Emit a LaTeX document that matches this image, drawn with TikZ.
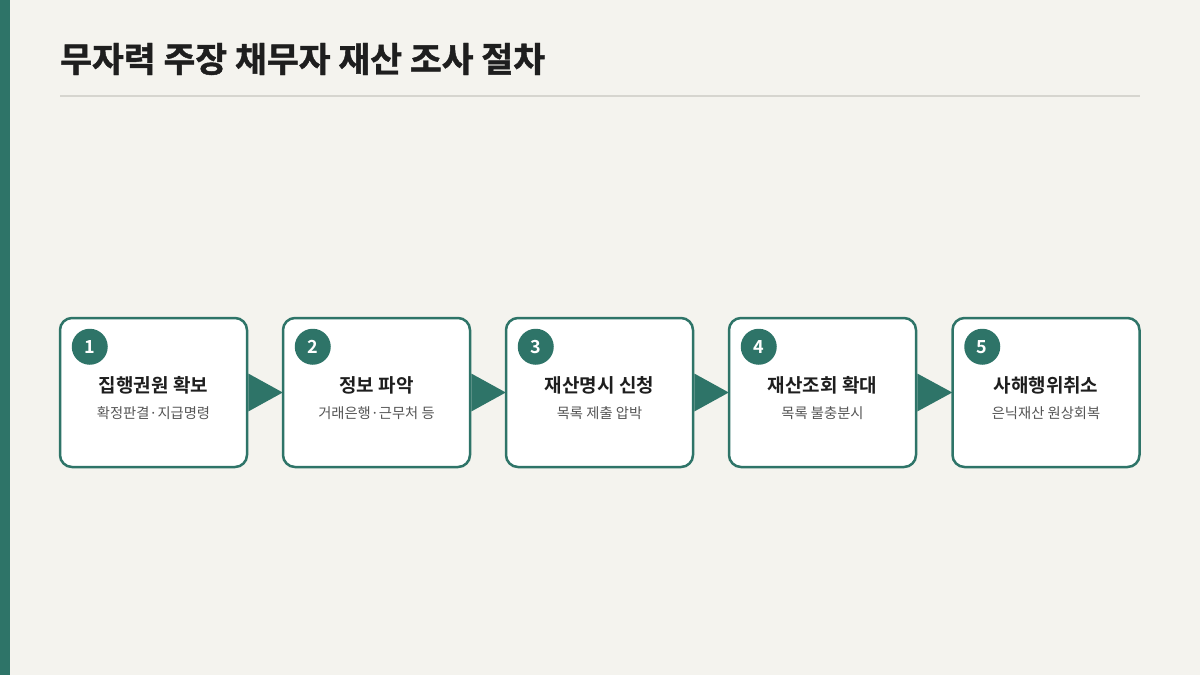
\documentclass[tikz,border=0pt]{standalone}
\usepackage{fontspec}
\setmainfont{Noto Sans CJK KR}
\newfontfamily\krbold{Noto Sans CJK KR Bold}
\newfontfamily\krtitle[FakeBold=1.2]{Noto Sans CJK KR Bold}
\newfontfamily\krreg{Noto Sans CJK KR}
\definecolor{bg}{HTML}{F4F3EE}
\definecolor{teal}{HTML}{2E7468}
\definecolor{rule}{HTML}{D6D5CF}
\definecolor{ink}{HTML}{1E1E1E}
\definecolor{sub}{HTML}{555555}
\begin{document}
\begin{tikzpicture}[x=1pt,y=-1pt,
  stepbox/.style={draw=teal,line width=2.5pt,fill=white,rounded corners=12pt,minimum width=187pt,minimum height=149pt,inner sep=0pt},
  numdot/.style={circle,fill=teal,minimum size=36pt,inner sep=0pt,text=white,font=\krbold\fontsize{18pt}{18pt}\selectfont},
  steptitle/.style={text=ink,font=\krbold\fontsize{19pt}{19pt}\selectfont,anchor=center},
  stepsub/.style={text=sub,font=\krreg\fontsize{14.3pt}{14.3pt}\selectfont,anchor=center},
  flowarrow/.style={fill=teal}
]
\useasboundingbox (0,0) rectangle (1200,675);
\fill[bg] (0,0) rectangle (1200,675);
\fill[teal] (0,0) rectangle (10,675);
\node[anchor=west,inner sep=0pt,text=ink,font=\krtitle\fontsize{34.6pt}{34.6pt}\selectfont] (title) at (60,59) {무자력 주장 채무자 재산 조사 절차};
\coordinate (ruleL) at (60,96);
\coordinate (ruleR) at (1140,96);
\draw[rule,line width=2pt] (ruleL) -- (ruleR);

\foreach \i/\x/\t/\s in {1/153.5/집행권원 확보/확정판결·지급명령,
                         2/376.5/정보 파악/거래은행·근무처 등,
                         3/599.5/재산명시 신청/목록 제출 압박,
                         4/822.5/재산조회 확대/목록 불충분시,
                         5/1046/사해행위취소/은닉재산 원상회복}{
  \node[stepbox] (box\i) at (\x,392.5) {};
  \node[numdot] (num\i) at ([xshift=31pt,yshift=-30pt]box\i.north west) {\i};
  \node[steptitle] (t\i) at (\x,385) {\t};
  \node[stepsub] (s\i) at (\x,413) {\s};
}
\foreach \a/\b in {1/2,2/3,3/4,4/5}{
  \fill[flowarrow] ([yshift=19pt]box\a.east) -- ([yshift=-19pt]box\a.east) -- ([xshift=1pt]box\b.west) -- cycle;
}
\end{tikzpicture}
\end{document}
